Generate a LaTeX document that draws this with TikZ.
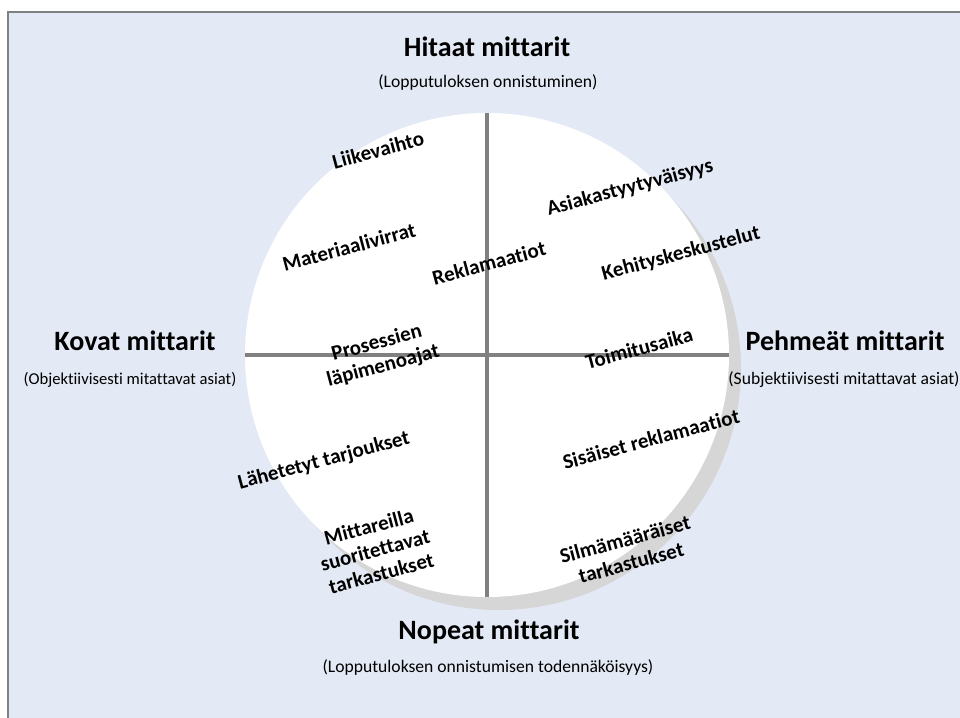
\documentclass[tikz,border=0pt]{standalone}
\usepackage{fontspec}
\setmainfont{Carlito}[Ligatures={TeX,NoCommon}]
\definecolor{bgblue}{HTML}{E4EAF5}
\definecolor{framegray}{HTML}{808080}
\definecolor{shadowgray}{HTML}{D6D6D6}
\definecolor{axisgray}{HTML}{808080}
\begin{document}
\begin{tikzpicture}[x=1pt,y=-1pt,
  heading/.style={font=\bfseries\fontsize{28}{32}\selectfont, inner sep=0pt},
  subhead/.style={font=\fontsize{17.6}{20}\selectfont, inner sep=0pt},
  metric/.style={font=\bfseries\fontsize{21}{24}\selectfont, rotate=15, align=center, inner sep=0pt},
  axis/.style={draw=axisgray, line width=4pt}]
\useasboundingbox (0,0) rectangle (960,717);
% page background and frame
\fill[bgblue] (8,12) rectangle (975,730);
\draw[framegray, line width=1.5pt] (8,730) -- (8,12) -- (975,12);
% circle with its shadow
\fill[shadowgray] (499,368) circle[radius=242];
\fill[white] (487,355) circle[radius=242];
% axes
\coordinate (top) at (487,113);
\coordinate (bottom) at (487,597);
\coordinate (left) at (245,355);
\coordinate (right) at (729,355);
\draw[axis] (top) -- (bottom);
\draw[axis] (left) -- (right);
% headings
\node[heading] (slow) at (487,47) {Hitaat mittarit};
\node[subhead] (slowsub) at (488,82) {(Lopputuloksen onnistuminen)};
\node[heading] (hard) at (135,341) {Kovat mittarit};
\node[subhead, font=\fontsize{16.6}{19}\selectfont] (hardsub) at (130,380) {(Objektiivisesti mitattavat asiat)};
\node[heading] (soft) at (845,341) {Pehmeät mittarit};
\node[subhead] (softsub) at (844,380) {(Subjektiivisesti mitattavat asiat)};
\node[heading] (fast) at (489,632) {Nopeat mittarit};
\node[subhead] (fastsub) at (488,667) {(Lopputuloksen onnistumisen todennäköisyys)};
% metrics
\node[metric] (m1) at (378,150) {Liikevaihto};
\node[metric] (m2) at (349,247) {Materiaalivirrat};
\node[metric] (m3) at (489,263) {Reklamaatiot};
\node[metric] (m4) at (630,188) {Asiakastyytyväisyys};
\node[metric] (m5) at (681,254) {Kehityskeskustelut};
\node[metric] (m6) at (380,355) {Prosessien\\läpimenoajat};
\node[metric] (m7) at (639,348) {Toimitusaika};
\node[metric] (m8) at (324,461) {Lähetetyt tarjoukset};
\node[metric] (m9) at (651,439) {Sisäiset reklamaatiot};
\node[metric] (m10) at (375,550) {Mittareilla\\suoritettavat\\tarkastukset};
\node[metric] (m11) at (628,551) {Silmämääräiset\\tarkastukset};
\end{tikzpicture}
\end{document}
